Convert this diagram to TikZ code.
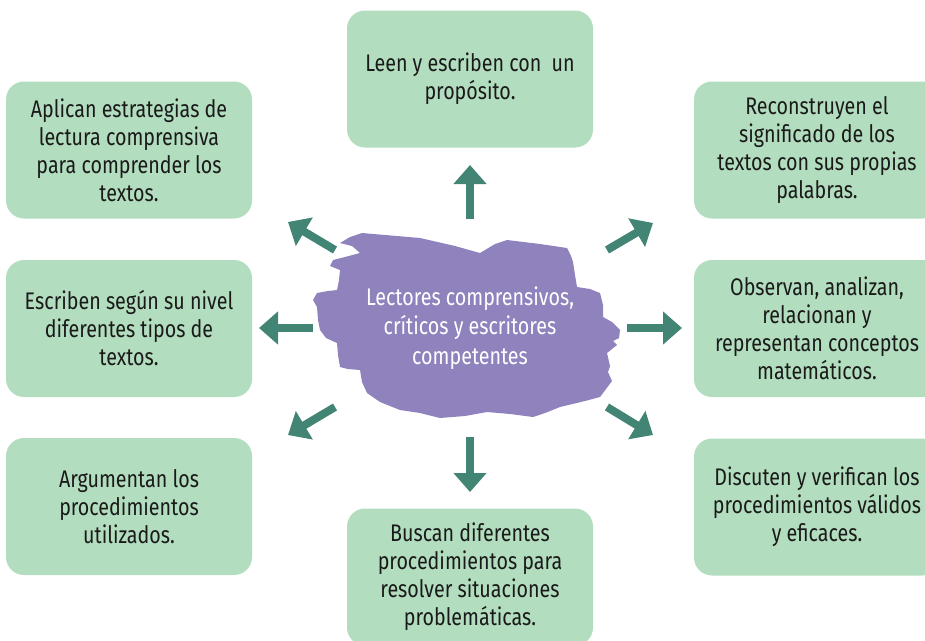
\documentclass[tikz,border=0pt]{standalone}
\usepackage{fontspec}
\setmainfont[FakeStretch=0.82]{Fira Sans}
\usepackage{tikz}
\usetikzlibrary{arrows.meta}

\definecolor{verdecaja}{HTML}{B2DDBE}
\definecolor{verdeflecha}{HTML}{428574}
\definecolor{lila}{HTML}{9083BD}
\definecolor{texto}{HTML}{1A1A1A}

\tikzset{
  caja/.style={fill=verdecaja, rounded corners=18pt, inner sep=0pt,
    minimum width=246pt, minimum height=137pt, align=center, text=texto,
    font=\fontsize{24}{28}\selectfont},
  flecha/.style={draw=verdeflecha, line width=8pt,
    -{Triangle[width=32pt,length=19pt]}},
}

\begin{document}
\begin{tikzpicture}[x=1pt,y=-1pt]
\clip (0,0) rectangle (925,640);

% Boxes
\node[caja] (arriba) at (470,79) {Leen y escriben con\ \ un\\propósito.};
\node[caja] (izqa) at (129,150) {Aplican estrategias de\\lectura comprensiva\\para comprender los\\textos.};
\node[caja] (izqb) at (129,328.5) {Escriben según su nivel\\diferentes tipos de\\textos.};
\node[caja] (izqc) at (129,506.5) {Argumentan los\\procedimientos\\utilizados.};
\node[caja] (dera) at (817,150) {Reconstruyen el\\significado de los\\textos con sus propias\\palabras.};
\node[caja] (derb) at (817,328.5) {Observan, analizan,\\relacionan y\\representan conceptos\\matemáticos.};
\node[caja] (derc) at (817,507) {Discuten y verifican los\\procedimientos válidos\\y eficaces.};
\node[caja] (abajo) at (470,577) {Buscan diferentes\\procedimientos para\\resolver situaciones\\problemáticas.};

% Brush stroke
\fill[lila] (350,237) -- (362,233) -- (420,238) -- (455,246) -- (480,253) -- (495,244)
  -- (507,240) -- (540,244) -- (567,248) -- (571,256) -- (573,262) -- (575,275)
  -- (577,287) -- (590,289) -- (600,293) -- (603,305) -- (603,317) -- (612,322)
  -- (620,330) -- (619,338) -- (613,341) -- (617,345) -- (607,353) -- (610,366)
  -- (608,372) -- (612,381) -- (600,397) -- (585,401) -- (560,407) -- (545,413)
  -- (533,417) -- (510,414) -- (487,412) -- (465,416) -- (440,418) -- (420,413)
  -- (400,410) -- (380,402) -- (367,393) -- (362,382) -- (360,370) -- (348,369)
  -- (340,367) -- (338,355) -- (337,343) -- (326,338) -- (320,330) -- (318,320)
  -- (317,307) -- (313,300) -- (317,293) -- (328,291) -- (337,290) -- (339,280)
  -- (340,270) -- (330,266) -- (333,260) -- (345,257) -- (360,253) -- (352,246)
  -- (340,243) -- cycle;
\node[text=white, align=center, font=\fontsize{24}{29.5}\selectfont] (centro)
  at (470,328) {Lectores comprensivos,\\críticos y escritores\\competentes};

% Arrow ends
\coordinate (c1) at (470,219); \coordinate (p1) at (470,165);
\coordinate (c2) at (470,437); \coordinate (p2) at (470,492);
\coordinate (c3) at (313,328); \coordinate (p3) at (259,328);
\coordinate (c4) at (627,328); \coordinate (p4) at (682,328);
\coordinate (c5) at (335,250); \coordinate (p5) at (288,222);
\coordinate (c6) at (335,407); \coordinate (p6) at (288,435);
\coordinate (c7) at (607,250); \coordinate (p7) at (653,223);
\coordinate (c8) at (607,407); \coordinate (p8) at (653,435);

% Arrows
\foreach \i in {1,...,8}
  \draw[flecha] (c\i) -- (p\i);

\end{tikzpicture}
\end{document}
